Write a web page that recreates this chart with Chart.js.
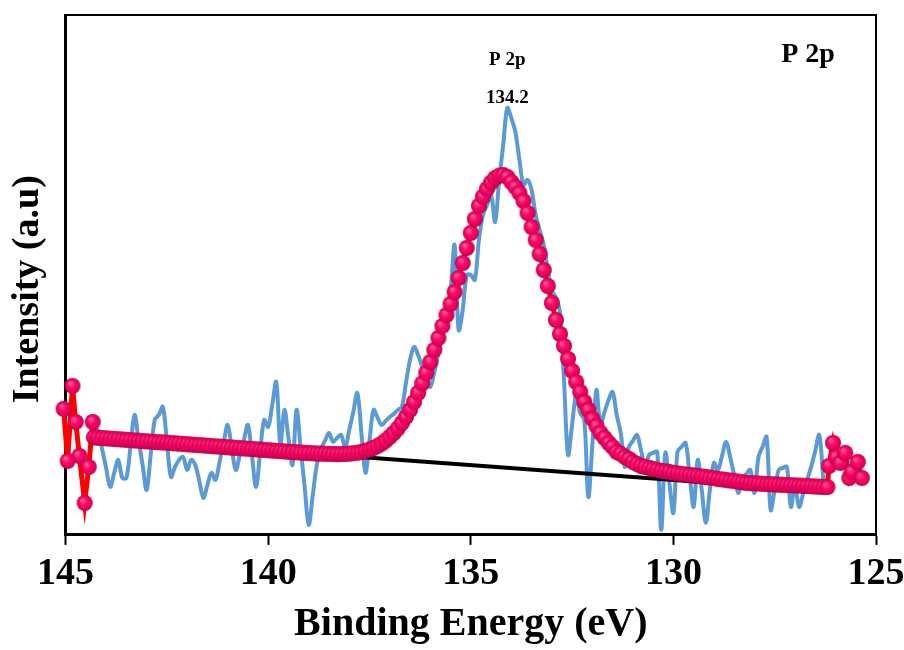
<!DOCTYPE html>
<html>
<head>
<meta charset="utf-8">
<script src="https://cdn.jsdelivr.net/npm/chart.js@4.4.1/dist/chart.umd.min.js"></script>
<style>
    body { margin: 0; padding: 0; background: #ffffff; }
    .chartBox { width: 904px; height: 650px; }
</style>
</head>
<body>
<div class="chartBox">
    <canvas id="xpsChart" width="904" height="650"></canvas>
</div>
<script>
// binding energy grid (eV) shared by the raw scan and the fitted envelope
const energy = [
    144.3,144.2,144.1,144.0,143.9,143.8,143.7,143.6,143.5,143.4,
    143.3,143.2,143.1,143.0,142.9,142.8,142.7,142.6,142.5,142.4,
    142.3,142.2,142.1,142.0,141.9,141.8,141.7,141.6,141.5,141.4,
    141.3,141.2,141.1,141.0,140.9,140.8,140.7,140.6,140.5,140.4,
    140.3,140.2,140.1,140.0,139.9,139.8,139.7,139.6,139.5,139.4,
    139.3,139.2,139.1,139.0,138.9,138.8,138.7,138.6,138.5,138.4,
    138.3,138.2,138.1,138.0,137.9,137.8,137.7,137.6,137.5,137.4,
    137.3,137.2,137.1,137.0,136.9,136.8,136.7,136.6,136.5,136.4,
    136.3,136.2,136.1,136.0,135.9,135.8,135.7,135.6,135.5,135.4,
    135.3,135.2,135.1,135.0,134.9,134.8,134.7,134.6,134.5,134.4,
    134.3,134.2,134.1,134.0,133.9,133.8,133.7,133.6,133.5,133.4,
    133.3,133.2,133.1,133.0,132.9,132.8,132.7,132.6,132.5,132.4,
    132.3,132.2,132.1,132.0,131.9,131.8,131.7,131.6,131.5,131.4,
    131.3,131.2,131.1,131.0,130.9,130.8,130.7,130.6,130.5,130.4,
    130.3,130.2,130.1,130.0,129.9,129.8,129.7,129.6,129.5,129.4,
    129.3,129.2,129.1,129.0,128.9,128.8,128.7,128.6,128.5,128.4,
    128.3,128.2,128.1,128.0,127.9,127.8,127.7,127.6,127.5,127.4,
    127.3,127.2,127.1,127.0,126.9,126.8,126.7,126.6,126.5,126.4,
    126.3,126.2
];

// raw P 2p scan (a.u.)
const rawIntensity = [
    103,105,86,67,48,62,75,57,57,88,
    120,95,70,45,80,115,120,128,93,58,
    68,75,78,65,75,70,54,37,50,62,
    55,73,92,110,87,65,80,95,110,79,
    48,82,115,108,130,153,90,125,97,70,
    125,87,48,10,40,70,86,94,102,93,
    97,100,87,105,123,142,102,62,94,125,
    117,110,114,118,121,125,128,152,175,188,
    180,168,158,148,163,182,200,223,245,290,
    205,225,260,260,255,295,320,330,340,313,
    355,390,427,417,403,375,350,355,345,320,
    305,290,265,245,237,223,155,80,110,140,
    122,115,38,90,145,110,123,135,143,120,
    102,68,88,94,100,85,68,80,82,83,
    5,82,52,22,83,88,92,60,28,75,
    45,12,45,72,65,79,93,78,60,42,
    57,61,65,42,78,88,98,25,45,65,
    67,68,28,50,28,41,55,68,84,100,
    55,null
];

// fitted envelope (a.u.)
const fitIntensity = [
    97.5,97.2,96.9,96.6,96.3,96.0,95.7,95.4,95.1,94.8,
    94.5,94.2,93.9,93.6,93.3,93.0,92.7,92.5,92.2,91.9,
    91.6,91.3,91.0,90.7,90.4,90.1,89.8,89.5,89.2,88.9,
    88.6,88.3,88.0,87.7,87.4,87.1,86.8,86.5,86.2,85.9,
    85.6,85.3,85.0,84.7,84.4,84.1,83.8,83.5,83.2,82.9,
    82.7,82.4,82.1,82.0,81.7,81.4,81.3,81.2,81.0,80.9,
    80.8,80.9,81.0,81.3,81.7,82.2,83.0,84.1,85.4,87.0,
    89.0,91.4,94.4,98.0,102.0,106.6,112.0,118.0,125.0,133.0,
    142.0,151.5,162.0,173.0,185.0,197.0,209.0,220.0,231.0,243.0,
    257.0,272.0,287.0,302.0,316.0,329.1,338.4,346.2,352.4,356.9,
    359.4,360.0,358.0,353.0,348.0,342.0,334.0,322.0,308.0,295.0,
    281,265,249,232,215,201,189,176,164,153,
    143,133,125,116,109,102,97,92,88,83,
    81,78,76,73,71,69,68,67,66,65,
    64,63.5,63,62,61.5,61,60.5,60,59.5,59,
    58.4,58,57.4,56.8,56,55.5,55,54.4,54,53.3,
    52.6,52,51.8,51.6,51.4,51.2,50.9,50.7,50.5,50.3,
    50.1,49.9,49.7,49.5,49.3,49.1,48.9,48.7,48.4,48.2,
    48.0,47.8
];

// stray fit points outside the scanned window
const edgeHighEnergy = [145.05, 144.95, 144.83, 144.75, 144.66, 144.53, 144.43, 144.33];
const edgeHighFit = [126, 74, 149, 113, 79, 32, 68, 113];
const edgeLowEnergy = [126.16, 126.06, 125.98, 125.88, 125.76, 125.66, 125.60, 125.45, 125.35];
const edgeLowFit = [69, 92, 78, 72, 82, 57, 63, 73, 57];

// linear background under the peak
const backgroundEnergy = [144.3, 126.2];
const backgroundFit = [97.5, 43.7];

const xTickValues = [145, 140, 135, 130, 125];
const peakName = 'P 2p';
const peakPosition = 134.2;

const serif = '"Liberation Serif", "Times New Roman", Times, serif';

function toPoints(xs, ys) {
    return xs.map((x, i) => ({ x: x, y: ys[i] }));
}

const fitPoints = toPoints(edgeHighEnergy, edgeHighFit)
    .concat(toPoints(energy, fitIntensity))
    .concat(toPoints(edgeLowEnergy, edgeLowFit));

// shaded pink ball used as the marker
function makeBall(r) {
    const c = document.createElement('canvas');
    const s = r * 2 + 2;
    c.width = s;
    c.height = s;
    const g = c.getContext('2d');
    const grad = g.createRadialGradient(s / 2 - r * 0.3, s / 2 - r * 0.35, r * 0.1, s / 2, s / 2, r);
    grad.addColorStop(0, '#ff5c98');
    grad.addColorStop(0.4, '#ff0a66');
    grad.addColorStop(0.85, '#e0005a');
    grad.addColorStop(1, '#a8003f');
    g.fillStyle = grad;
    g.beginPath();
    g.arc(s / 2, s / 2, r, 0, Math.PI * 2);
    g.fill();
    return c;
}
const ball = makeBall(8);

const extras = {
    id: 'extras',
    afterDraw(chart) {
        const ctx = chart.ctx;
        const a = chart.chartArea;
        const xs = chart.scales.x;
        ctx.save();
        // plot frame top and right
        ctx.strokeStyle = '#000';
        ctx.lineWidth = 2;
        ctx.beginPath();
        ctx.moveTo(a.left, a.top);
        ctx.lineTo(a.right, a.top);
        ctx.lineTo(a.right, a.bottom);
        ctx.stroke();

        ctx.fillStyle = '#000';
        ctx.textAlign = 'center';
        ctx.textBaseline = 'middle';
        const px = xs.getPixelForValue(peakPosition - 0.1);
        ctx.font = 'bold 19px ' + serif;
        ctx.fillText(peakName, px, a.top + 45);
        ctx.fillText(peakPosition.toFixed(1), px, a.top + 83);
        ctx.font = 'bold 28px ' + serif;
        ctx.fillText(peakName, a.right - 68, a.top + 40);
        ctx.restore();
    }
};

new Chart(document.getElementById('xpsChart'), {
    type: 'line',
    data: {
        datasets: [
            {
                label: 'Fit',
                data: fitPoints,
                borderColor: '#ff0000',
                borderWidth: 5,
                tension: 0,
                pointStyle: ball,
                pointRadius: 8,
                clip: false,
                order: 0
            },
            {
                label: 'Background',
                data: toPoints(backgroundEnergy, backgroundFit),
                borderColor: '#000000',
                borderWidth: 4,
                pointRadius: 0,
                order: 1
            },
            {
                label: 'Raw',
                data: toPoints(energy, rawIntensity),
                borderColor: '#5b9bd5',
                borderWidth: 4,
                pointRadius: 0,
                tension: 0.35,
                order: 2
            }
        ]
    },
    options: {
        responsive: false,
        animation: false,
        layout: { padding: { left: 2, right: 28, top: 15, bottom: 0 } },
        plugins: {
            legend: { display: false },
            tooltip: { enabled: false }
        },
        scales: {
            x: {
                type: 'linear',
                min: 125,
                max: 145,
                reverse: true,
                afterBuildTicks: axis => {
                    axis.ticks = xTickValues.map(v => ({ value: v }));
                },
                afterFit: axis => {
                    axis.paddingRight = 0;
                },
                ticks: {
                    color: '#000',
                    padding: 6,
                    maxRotation: 0,
                    autoSkip: false,
                    font: { family: serif, size: 38, weight: 'bold' }
                },
                grid: {
                    display: true,
                    drawOnChartArea: false,
                    drawTicks: true,
                    tickLength: 10,
                    tickWidth: 2,
                    tickColor: '#000',
                    color: '#000'
                },
                border: { display: true, color: '#000', width: 3 },
                title: {
                    display: true,
                    text: 'Binding Energy (eV)',
                    color: '#000',
                    font: { family: serif, size: 40, weight: 'bold', lineHeight: 1 },
                    padding: { top: 2, bottom: 5.5 }
                }
            },
            y: {
                min: 0,
                max: 520,
                ticks: { display: false },
                grid: { display: false, drawTicks: false },
                border: { display: true, color: '#000', width: 3 },
                title: {
                    display: true,
                    text: 'Intensity (a.u)   ',
                    color: '#000',
                    font: { family: serif, size: 38, weight: 'bold' },
                    padding: { top: 3, bottom: 15 }
                }
            }
        }
    },
    plugins: [extras]
});
</script>
</body>
</html>
